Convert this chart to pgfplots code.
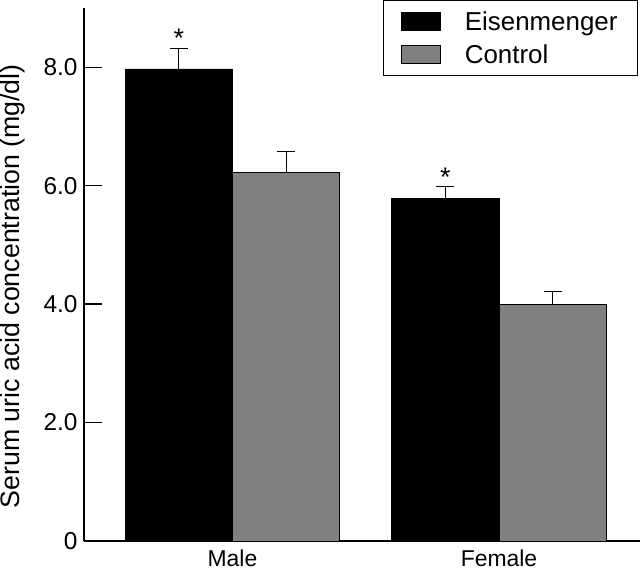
\documentclass[border=0pt]{standalone}
\usepackage{fontspec}
\setmainfont{Liberation Sans}
\usepackage{pgfplots}
\pgfplotsset{compat=1.18}
\definecolor{ctrlgray}{RGB}{128,128,128}
\begin{document}
\begin{tikzpicture}
\pgfplotsset{
  mylegend/.style={legend image code/.code={\draw[##1, line width=0.8bp] (0bp,-9bp) rectangle (39bp,9bp);}},
}
\begin{axis}[
  scale only axis, width=556bp, height=533bp,
  xmin=-0.557, xmax=1.529, ymin=0, ymax=9,
  axis lines*=left,
  axis line style={line width=1.3bp, black},
  ytick={0,2,4,6,8}, yticklabels={0,2.0,4.0,6.0,8.0},
  xtick={0,1}, xticklabels={Male,Female},
  major tick length=18bp, tick align=inside,
  x tick style={draw=none},
  y tick style={line width=1.3bp, black},
  yticklabel style={font=\fontsize{24.5}{29}\selectfont, xshift=-3bp},
  xticklabel style={font=\fontsize{23}{28}\selectfont, inner sep=0pt, text depth=0pt, yshift=9.5bp},
  ylabel={Serum uric acid concentration (mg/dl)},
  ylabel style={font=\fontsize{26.8}{32}\selectfont, at={(axis description cs:0,0.478)}, anchor=base, yshift=64bp},
  ybar, bar width=0.403,
  legend style={at={(1,1)}, anchor=north east, xshift=-2bp, yshift=8bp,
    draw=black, line width=1bp, font=\fontsize{26}{31}\selectfont,
    inner xsep=18bp, inner ysep=9bp, row sep=9bp,
    /tikz/every odd column/.append style={column sep=22bp}},
  legend cell align=left,
  error bars/y dir=plus, error bars/y explicit,
  error bars/error bar style={line width=1.3bp, black},
  error bars/error mark options={rotate=90, mark size=9bp, line width=1.3bp, black},
]
\addplot[bar shift=0pt, fill=black, draw=black, line width=0.8bp, mylegend]
  coordinates {(-0.2015,7.97) +- (0,0.35) (0.7985,5.78) +- (0,0.21)};
\addplot[bar shift=0pt, fill=ctrlgray, draw=black, line width=0.8bp, mylegend]
  coordinates {(0.2015,6.23) +- (0,0.35) (1.2015,4.00) +- (0,0.21)};
\legend{Eisenmenger, Control}
\node[anchor=north, inner sep=0pt, font=\fontsize{27}{31}\selectfont] at (axis cs:-0.2015,8.65) {*};
\node[anchor=north, inner sep=0pt, font=\fontsize{27}{31}\selectfont] at (axis cs:0.7985,6.30) {*};
\end{axis}
\pgfresetboundingbox
\path ([shift={(-84bp,-28bp)}]current axis.south west) rectangle ([shift={(0bp,8bp)}]current axis.north east);
\end{tikzpicture}
\end{document}
